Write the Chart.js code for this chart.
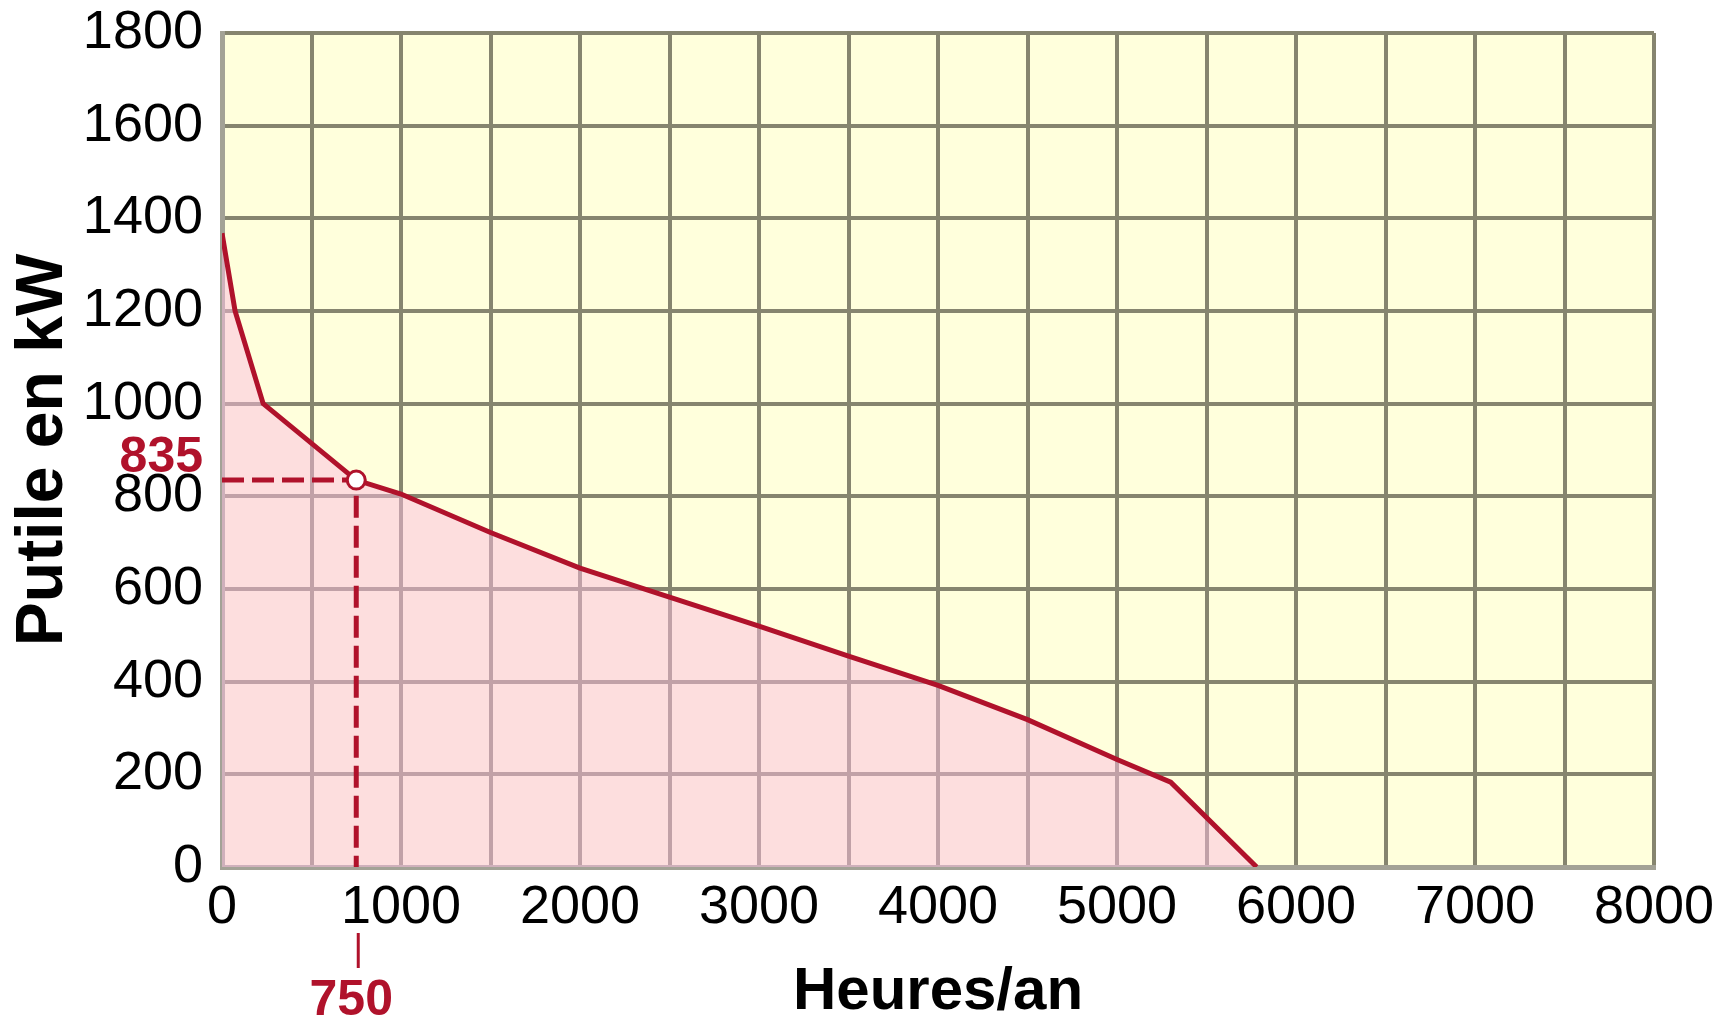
<!DOCTYPE html>
<html>
<head>
<meta charset="utf-8">
<title>Putile en kW / Heures par an</title>
<script src="https://cdn.jsdelivr.net/npm/chart.js@4/dist/chart.umd.min.js"></script>
<style>
  html, body { margin: 0; padding: 0; background: #ffffff; }
  #wrap { width: 1719px; height: 1026px; }
</style>
</head>
<body>
<div id="wrap"><canvas id="chart" width="1719" height="1026"></canvas></div>
<script>
// monotone load curve
const hours = [0, 73, 230, 750, 1000, 1500, 2000, 3000, 3500, 4000, 4500, 5000, 5300, 5780];
const kw = [1368, 1200, 1000, 835, 805, 722, 645, 520, 455, 392, 318, 232, 183, 0];

// highlighted operating point
const markHours = 750;
const markKw = 835;

const yTicks = [0, 200, 400, 600, 800, 1000, 1200, 1400, 1600, 1800];
const xTicks = [0, 1000, 2000, 3000, 4000, 5000, 6000, 7000, 8000];

const red = '#b0122b';
const gridColor = '#86856f';

const curve = hours.map((h, i) => ({ x: h, y: kw[i] }));
const guide = [
  { x: 0, y: markKw },
  { x: markHours, y: markKw },
  { x: markHours, y: 0 }
];

// yellow plot background
const areaBg = {
  id: 'areaBg',
  beforeDraw(chart) {
    const { ctx, chartArea: a } = chart;
    ctx.save();
    ctx.fillStyle = '#ffffdc';
    ctx.fillRect(a.left, a.top, a.right - a.left, a.bottom - a.top);
    ctx.restore();
  }
};

// red value labels for the marked point
const markLabels = {
  id: 'markLabels',
  afterDraw(chart) {
    const { ctx, scales } = chart;
    const px = scales.x.getPixelForValue(markHours);
    const py = scales.y.getPixelForValue(markKw);
    const bottom = chart.chartArea.bottom;
    ctx.save();
    ctx.fillStyle = red;
    ctx.font = 'bold 50px "Liberation Sans", Arial, sans-serif';
    ctx.textAlign = 'right';
    ctx.textBaseline = 'middle';
    ctx.fillText(String(markKw), chart.chartArea.left - 19, py - 22);
    ctx.textAlign = 'center';
    ctx.fillText(String(markHours), px - 5, bottom + 134);
    ctx.strokeStyle = red;
    ctx.lineWidth = 3;
    ctx.beginPath();
    ctx.moveTo(px + 2, bottom + 66);
    ctx.lineTo(px + 2, bottom + 101);
    ctx.stroke();
    ctx.restore();
  }
};

new Chart(document.getElementById('chart'), {
  type: 'line',
  data: {
    datasets: [
      {
        label: 'point',
        data: [{ x: markHours, y: markKw }],
        showLine: false,
        pointRadius: 9,
        pointBackgroundColor: '#ffffff',
        pointBorderColor: red,
        pointBorderWidth: 3,
        order: 0
      },
      {
        label: 'guide',
        data: guide,
        borderColor: red,
        borderWidth: 5,
        borderDash: [22, 8],
        pointRadius: 0,
        fill: false,
        order: 1
      },
      {
        label: 'Putile',
        data: curve,
        borderColor: red,
        borderWidth: 5,
        backgroundColor: 'rgba(251, 189, 224, 0.5)',
        fill: 'origin',
        pointRadius: 0,
        tension: 0,
        order: 2
      }
    ]
  },
  options: {
    responsive: false,
    animation: false,
    layout: { padding: { top: 33, right: 65, left: 0, bottom: 0 } },
    plugins: {
      legend: { display: false },
      tooltip: { enabled: false }
    },
    scales: {
      x: {
        type: 'linear',
        min: 0,
        max: 8000,
        afterBuildTicks: scale => {
          const t = [];
          xTicks.forEach((v, i) => {
            t.push({ value: v });
            if (i < xTicks.length - 1) t.push({ value: v + 500 });
          });
          scale.ticks = t;
        },
        afterFit: scale => {
          scale.height = 159;
          scale.paddingLeft = 0;
          scale.paddingRight = 0;
        },
        ticks: {
          autoSkip: false,
          maxRotation: 0,
          padding: 9,
          color: '#000000',
          font: { family: '"Liberation Sans", Arial, sans-serif', size: 54 },
          callback: v => (xTicks.includes(v) ? String(v) : '')
        },
        grid: { color: gridColor, lineWidth: 4, drawTicks: false },
        border: { color: '#a3a296', width: 5 },
        title: {
          display: true,
          text: 'Heures/an',
          color: '#000000',
          font: { family: '"Liberation Sans", Arial, sans-serif', size: 60, weight: 'bold', lineHeight: 1 },
          padding: { top: 0, bottom: 4 }
        }
      },
      y: {
        type: 'linear',
        min: 0,
        max: 1800,
        afterBuildTicks: scale => { scale.ticks = yTicks.map(v => ({ value: v })); },
        afterFit: scale => {
          scale.width = 222;
          scale.paddingTop = 0;
          scale.paddingBottom = 0;
        },
        ticks: {
          padding: 19,
          color: '#000000',
          font: { family: '"Liberation Sans", Arial, sans-serif', size: 54 },
          callback: v => String(v)
        },
        grid: { color: gridColor, lineWidth: 4, drawTicks: false },
        border: { color: '#a3a296', width: 5 },
        title: {
          display: true,
          text: 'Putile en kW',
          color: '#000000',
          font: { family: '"Liberation Sans", Arial, sans-serif', size: 66, weight: 'bold', lineHeight: 1 },
          padding: { top: 11, bottom: 0 }
        }
      }
    }
  },
  plugins: [areaBg, markLabels]
});
</script>
</body>
</html>
